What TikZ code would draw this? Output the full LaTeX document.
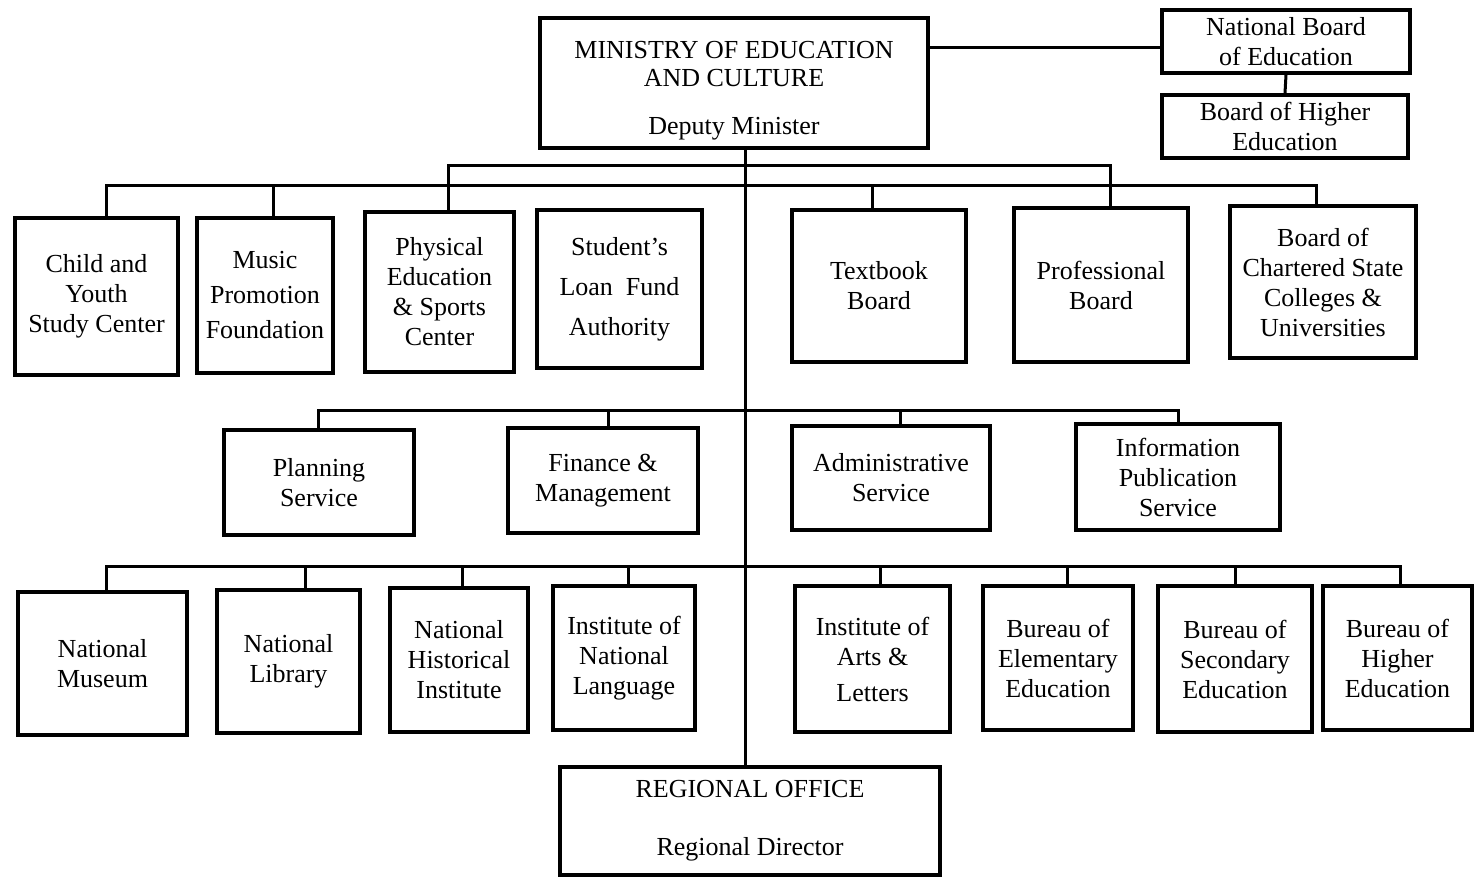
\documentclass[tikz,border=0pt]{standalone}
\usepackage{fontspec}
\setmainfont{Liberation Serif}
\tikzset{
  box/.style 2 args={draw, line width=1.9pt, minimum width=#1*0.5pt, minimum height=#2*0.5pt,
    inner sep=0pt, align=center, font=\fontsize{13}{15}\selectfont},
  conn/.style={line width=1.5pt}}
\begin{document}
\begin{tikzpicture}[x=0.5pt,y=-0.5pt]
\useasboundingbox (0,0) rectangle (1474,878);
% top
\node[box={388}{130}] (ministry) at (734,83) {\rule{0pt}{16pt}MINISTRY OF EDUCATION\\[-1pt]AND CULTURE\\[9pt]Deputy Minister};
\node[box={248}{63}] (nbe) at (1286,41.5) {National Board\\of Education};
\node[box={246}{63}] (bhe) at (1285,126.5) {Board of Higher\\Education};
% row 1
\node[box={163}{157}] (child) at (96.5,296.5) {Child and\\Youth\\Study Center};
\node[box={136}{155}] (music) at (265,295.5) {Music\\[2.5pt]Promotion\\[2.5pt]Foundation};
\node[box={149}{160}] (physical) at (439.5,292) {Physical\\Education\\\& Sports\\Center};
\node[box={165}{158}] (student) at (619.5,289) {Student's\\[5pt]Loan\ \ Fund\\[5pt]Authority};
\node[box={174}{152}] (textbook) at (879,286) {Textbook\\Board};
\node[box={174}{154}] (professional) at (1101,285) {Professional\\Board};
\node[box={186}{152}] (chartered) at (1323,282) {Board of\\Chartered State\\Colleges \&\\Universities};
% row 2
\node[box={190}{105}] (planning) at (319,482.5) {Planning\\Service};
\node[box={190}{105}] (finance) at (603,480.5) {Finance \&\\Management};
\node[box={198}{104}] (admin) at (891,478) {Administrative\\Service};
\node[box={204}{106}] (info) at (1178,477) {Information\\Publication\\Service};
% row 3
\node[box={169}{143}] (museum) at (102.5,663.5) {National\\Museum};
\node[box={143}{143}] (library) at (288.5,661.5) {National\\Library};
\node[box={138}{144}] (historical) at (459,660) {National\\Historical\\Institute};
\node[box={142}{144}] (instnl) at (624,658) {Institute of\\National\\Language};
\node[box={155}{146}] (arts) at (872.5,659) {Institute of\\Arts \&\\[3pt]Letters};
\node[box={150}{144}] (elem) at (1058,658) {Bureau of\\Elementary\\Education};
\node[box={154}{146}] (secondary) at (1235,659) {Bureau of\\Secondary\\Education};
\node[box={149}{144}] (higher) at (1397.5,658) {Bureau of\\Higher\\Education};
% regional
\node[box={380}{108}] (regional) at (750,821) {REGIONAL OFFICE\\[14pt]Regional Director};
% connectors
\draw[conn] ([yshift=-3pt]nbe.west) -- ([yshift=-3pt]nbe.west -| ministry.east);
\draw[conn] (nbe.south) -- (bhe.north);
\coordinate (sp) at (745,0);
\draw[conn] (ministry.south -| sp) -- (regional.north -| sp);
% upper bar
\coordinate (u1) at (448,165);
\coordinate (u2) at (1110,165);
\draw[conn] (physical.north -| u1) -- (u1) -- (u2) -- (u2 |- professional.north);
% lower bar
\coordinate (l1) at (106,185);
\coordinate (l2) at (1316,185);
\draw[conn] (child.north -| l1) -- (l1) -- (l2) -- (l2 |- chartered.north);
\foreach \x/\n in {273/music,872/textbook} {
  \coordinate (t) at (\x,185);
  \draw[conn] (t) -- (t |- \n.north);
}
% service bar
\coordinate (s1) at (318,410);
\coordinate (s2) at (1178,410);
\draw[conn] (planning.north -| s1) -- (s1) -- (s2) -- (s2 |- info.north);
\foreach \x/\n in {608/finance,900/admin} {
  \coordinate (t) at (\x,410);
  \draw[conn] (t) -- (t |- \n.north);
}
% bottom bar
\coordinate (b1) at (106,566);
\coordinate (b2) at (1400,566);
\draw[conn] (museum.north -| b1) -- (b1) -- (b2) -- (b2 |- higher.north);
\foreach \x/\n in {305/library,462/historical,628/instnl,880/arts,1067/elem,1235/secondary} {
  \coordinate (t) at (\x,566);
  \draw[conn] (t) -- (t |- \n.north);
}
\end{tikzpicture}
\end{document}
